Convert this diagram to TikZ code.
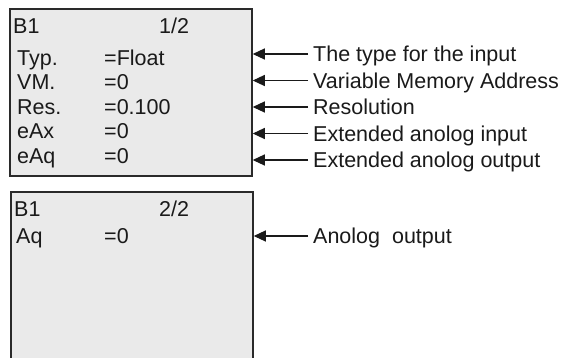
\documentclass[tikz,border=0pt]{standalone}
\usepackage{fontspec}
\setmainfont{Liberation Sans}
\usetikzlibrary{arrows.meta}
\definecolor{panelfill}{HTML}{EAEAEA}
\definecolor{panelline}{HTML}{2A2A2A}
\definecolor{ink}{HTML}{1A1A1A}
\begin{document}
\begin{tikzpicture}[x=1pt,y=-1pt,
  panel/.style={draw=panelline, fill=panelfill, line width=1.5pt, inner sep=0pt, minimum width=242pt},
  txt/.style={anchor=base west, inner sep=0pt, text=ink, font=\fontsize{21.5}{25}\selectfont},
  lbl/.style={anchor=west, inner sep=0pt, text=ink, text height=15.5pt, text depth=0pt, font=\fontsize{21.5}{25}\selectfont},
  pointer/.style={draw=ink, line width=1.1pt, -{Triangle[length=12pt,width=11pt]}}
]
\clip (0,0) rectangle (566,357);
\fill[white] (0,0) rectangle (566,357);
% panels
\node[panel, minimum height=167pt] (box1) at (131,92.5) {};
\node[panel, minimum height=190pt] (box2) at (132,287) {};
% panel 1 text
\node[txt] (t1a) at (13,33) {B1};
\node[txt] (t1b) at (159,33) {1/2};
\node[txt] (r1k) at (17,65) {Typ.};   \node[txt] (r1v) at (104,65) {=Float};
\node[txt] (r2k) at (17,89.5) {VM.};  \node[txt] (r2v) at (104,89.5) {=0};
\node[txt] (r3k) at (17,114) {Res.};  \node[txt] (r3v) at (104,114) {=0.100};
\node[txt] (r4k) at (17,138.5) {eAx}; \node[txt] (r4v) at (104,138.5) {=0};
\node[txt] (r5k) at (17,163) {eAq};   \node[txt] (r5v) at (104,163) {=0};
% panel 2 text
\node[txt] (t2a) at (14,216) {B1};
\node[txt] (t2b) at (159,216) {2/2};
\node[txt] (s1k) at (16,243) {Aq};    \node[txt] (s1v) at (104,243) {=0};
% labels
\node[lbl] (l1) at (313,54) {The type for the input};
\node[lbl] (l2) at (313,80.5) {Variable Memory Address};
\node[lbl] (l3) at (313,107) {Resolution};
\node[lbl] (l4) at (313,133.5) {Extended anolog input};
\node[lbl] (l5) at (313,160) {Extended anolog output};
\node[lbl] (l6) at (313,236) {Anolog\ \ output};
% pointers
\foreach \l in {l1,l2,l3,l4,l5}
  \draw[pointer] ([xshift=-5pt]\l.west) -- (box1.east |- \l.west);
\draw[pointer] ([xshift=-5pt]l6.west) -- (box2.east |- l6.west);
\end{tikzpicture}
\end{document}
